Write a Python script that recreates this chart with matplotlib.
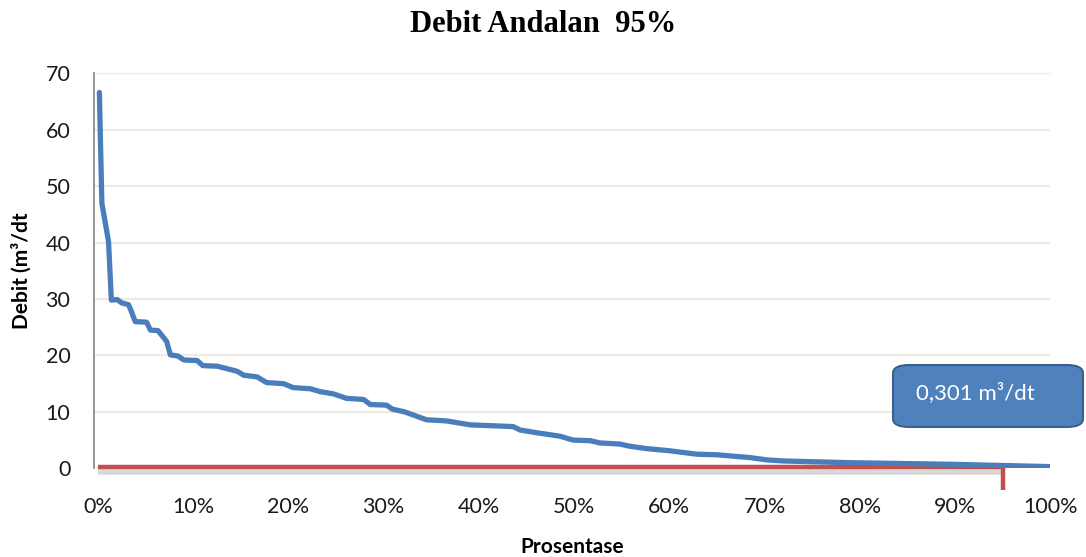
import matplotlib.pyplot as plt
from matplotlib.patches import FancyBboxPatch
from matplotlib.ticker import PercentFormatter

# flow duration curve (exceedance %, discharge m3/s)
prosentase = [0.0014, 0.004, 0.011, 0.014, 0.020, 0.025, 0.032, 0.035, 0.039,
              0.051, 0.055, 0.063, 0.072, 0.076, 0.084, 0.090, 0.104, 0.110,
              0.125, 0.146, 0.153, 0.167, 0.177, 0.195, 0.205, 0.223, 0.233,
              0.247, 0.261, 0.279, 0.286, 0.303, 0.309, 0.322, 0.345, 0.366,
              0.391, 0.436, 0.443, 0.461, 0.485, 0.499, 0.517, 0.527, 0.548,
              0.559, 0.576, 0.601, 0.629, 0.650, 0.685, 0.702, 0.720, 0.790,
              0.900, 1.000]
debit = [66.6, 47.0, 40.2, 29.8, 29.9, 29.3, 29.0, 27.8, 26.0,
         25.9, 24.5, 24.4, 22.5, 20.1, 19.9, 19.2, 19.1, 18.2,
         18.1, 17.2, 16.5, 16.2, 15.2, 15.0, 14.3, 14.1, 13.6,
         13.2, 12.4, 12.2, 11.3, 11.2, 10.5, 10.0, 8.6, 8.4,
         7.7, 7.4, 6.8, 6.3, 5.7, 5.0, 4.9, 4.5, 4.3,
         3.9, 3.5, 3.1, 2.5, 2.4, 1.9, 1.5, 1.3, 1.0,
         0.7, 0.3]

andalan_pct = 0.95
andalan_debit = 0.301
y_ticks = [0, 10, 20, 30, 40, 50, 60, 70]
x_ticks = [0.0, 0.1, 0.2, 0.3, 0.4, 0.5, 0.6, 0.7, 0.8, 0.9, 1.0]

plt.rcParams['font.family'] = ['Lato', 'DejaVu Sans']

fig = plt.figure(figsize=(10.86, 5.57), dpi=100)
ax = fig.add_axes([0.0866, 0.1592, 0.8804, 0.7092])

ax.set_xlim(-0.0042, 1.0)
ax.set_ylim(0, 70)
ax.set_yticks(y_ticks)
ax.set_xticks(x_ticks)
ax.xaxis.set_major_formatter(PercentFormatter(1.0, decimals=0))
ax.grid(axis='y', color='#EEECE1', linewidth=1.6)
ax.set_axisbelow(True)
ax.tick_params(length=0, labelsize=15.5, colors='#1A1A1A')
ax.tick_params(axis='x', pad=21)
ax.tick_params(axis='y', pad=17)
for side in ['top', 'right', 'bottom']:
    ax.spines[side].set_visible(False)
ax.spines['left'].set_color('#868686')
ax.spines['left'].set_linewidth(1.2)

# red dependable-flow marker with a soft shadow underneath
ax.plot([0, andalan_pct], [andalan_debit - 1.0, andalan_debit - 1.0],
        color='#AAAAAA', linewidth=4, alpha=0.45, solid_capstyle='butt',
        clip_on=False, zorder=2)
ax.plot([0, andalan_pct, andalan_pct], [andalan_debit, andalan_debit, -3.9],
        color='#C0504D', linewidth=3.2, solid_capstyle='butt',
        solid_joinstyle='miter', clip_on=False, zorder=3)

ax.plot(prosentase, debit, color='#4A7EBB', linewidth=3.8,
        solid_capstyle='round', solid_joinstyle='round', zorder=4)

# callout box
box = FancyBboxPatch((893 / 1086, 1 - 427 / 557), 190 / 1086, 62 / 557,
                     boxstyle='round,pad=0,rounding_size=0.015',
                     transform=fig.transFigure, facecolor='#4F81BD',
                     edgecolor='#3A5F8C', linewidth=1.5, zorder=5)
fig.patches.append(box)
fig.text(916 / 1086, 1 - 393 / 557, '0,301 m\u00b3/dt', color='white',
         fontsize=16, ha='left', va='center', zorder=6)

fig.text(0.5, 1 - 24 / 557, 'Debit Andalan  95%', ha='center', va='center',
         fontsize=22, fontweight='bold', family=['Liberation Serif', 'DejaVu Serif'])
ax.set_ylabel('Debit (m\u00b3/dt', fontsize=15, fontweight='bold', labelpad=10)
ax.set_xlabel('Prosentase', fontsize=15, fontweight='bold', labelpad=14)

fig.savefig('out.png', dpi=100)
